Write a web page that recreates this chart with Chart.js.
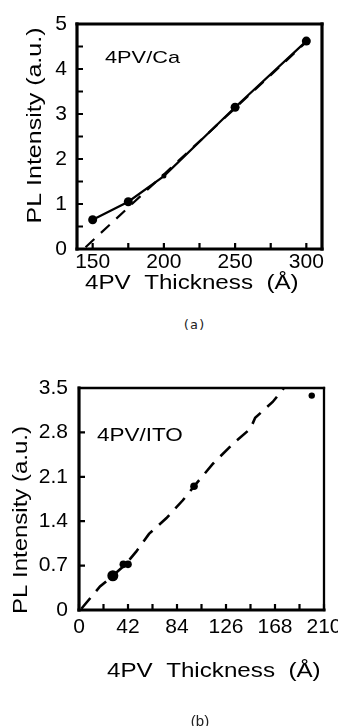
<!DOCTYPE html>
<html>
<head>
<meta charset="utf-8">
<script src="https://cdn.jsdelivr.net/npm/chart.js@4/dist/chart.umd.min.js"></script>
<style>
  html, body { margin: 0; padding: 0; background: #fff; }
  body { width: 338px; height: 726px; overflow: hidden; position: relative; }
  canvas { position: absolute; left: 0; }
  #chartA { top: 0; }
  #chartB { top: 340px; }
  .cap { position: absolute; transform: translate(-50%, -50%); color: #222; }
  #capA { left: 194px; top: 324px; font: 13px "DejaVu Sans Mono", monospace; }
  #capB { left: 200px; top: 720px; font: 15px "Liberation Sans", Arial, sans-serif; }
</style>
</head>
<body>
<canvas id="chartA" width="338" height="310"></canvas>
<canvas id="chartB" width="360" height="386"></canvas>
<div class="cap" id="capA">(a)</div>
<div class="cap" id="capB">(b)</div>
<script>
// (a) 4PV/Ca
const caThickness = [150, 175, 200, 250, 300];
const caIntensity = [0.65, 1.05, 1.62, 3.15, 4.62];
const caFitThickness = [145, 300];
const caFitIntensity = [0.04, 4.6];
const caXTicks = [150, 200, 250, 300];
const caYTicks = [0, 1, 2, 3, 4, 5];

// (b) 4PV/ITO
const itoThickness = [29, 38, 42, 98.6, 199.5];
const itoIntensity = [0.54, 0.72, 0.72, 1.95, 3.38];
const itoFitThickness = [2, 18, 29, 40, 49, 60, 75, 89, 98.6, 115, 132, 147, 151, 166, 177];
const itoFitIntensity = [0.02, 0.37, 0.54, 0.72, 0.92, 1.2, 1.45, 1.73, 1.95, 2.31, 2.62, 2.86, 3.03, 3.28, 3.53];
const itoXTicks = [0, 42, 84, 126, 168, 210];
const itoYTicks = ["0", "0.7", "1.4", "2.1", "2.8", "3.5"];

const FONT = "'Liberation Sans', Arial, sans-serif";

const toPoints = (xs, ys) => xs.map((x, i) => ({ x: x, y: ys[i] }));

const pickLabel = (list) => (v) => {
  const hit = list.find((l) => Math.abs(Number(l) - v) < 1e-6);
  return hit === undefined ? "" : String(hit);
};

// inward tick marks + frame
const frame = (o) => ({
  id: "frame",
  afterDatasetsDraw(chart) {
    const { ctx, chartArea: a, scales } = chart;
    ctx.save();
    ctx.strokeStyle = "#000";
    ctx.lineCap = "butt";
    ctx.lineWidth = o.tickWidth;
    ctx.beginPath();
    scales.x.ticks.forEach((t) => {
      const px = scales.x.getPixelForValue(t.value);
      ctx.moveTo(px, a.bottom);
      ctx.lineTo(px, a.bottom - o.tickLen);
    });
    scales.y.ticks.forEach((t) => {
      const py = scales.y.getPixelForValue(t.value);
      ctx.moveTo(a.left, py);
      ctx.lineTo(a.left + o.tickLen, py);
    });
    ctx.stroke();
    const edge = (w, x1, y1, x2, y2) => {
      ctx.lineWidth = w;
      ctx.beginPath();
      ctx.moveTo(x1, y1);
      ctx.lineTo(x2, y2);
      ctx.stroke();
    };
    ctx.lineCap = "square";
    edge(o.axisWidth, a.left, a.top, a.left, a.bottom);
    edge(o.axisWidth, a.left, a.bottom, a.right, a.bottom);
    edge(o.frameWidth, a.left, a.top, a.right, a.top);
    edge(o.frameWidth, a.right, a.top, a.right, a.bottom);
    ctx.restore();
  },
});

// titles and inset labels (text is a bit wide in the original)
const texts = (items) => ({
  id: "texts",
  afterDraw(chart) {
    const ctx = chart.ctx;
    items.forEach((it) => {
      ctx.save();
      ctx.fillStyle = "#000";
      ctx.font = it.size + "px " + FONT;
      ctx.textBaseline = "middle";
      ctx.textAlign = it.align || "left";
      ctx.translate(it.x, it.y);
      if (it.rot) ctx.rotate(-Math.PI / 2);
      ctx.scale(it.sx, 1);
      ctx.fillText(it.text, 0, 0);
      ctx.restore();
    });
  },
});

const axis = (o) => ({
  type: "linear",
  position: o.position,
  min: o.min,
  max: o.max,
  grid: { display: false, drawTicks: false },
  border: { display: false },
  ticks: {
    stepSize: o.step,
    includeBounds: false,
    autoSkip: false,
    maxRotation: 0,
    padding: o.padding,
    color: "#000",
    font: { family: FONT, size: 21 },
    callback: pickLabel(o.labels),
  },
  afterFit: o.fit,
});

new Chart(document.getElementById("chartA"), {
  type: "scatter",
  data: {
    datasets: [
      {
        data: toPoints(caThickness, caIntensity),
        showLine: true,
        borderColor: "#000",
        borderWidth: 2.2,
        backgroundColor: "#000",
        pointRadius: [4.5, 4.5, 2.5, 4.5, 4.5],
        pointBorderWidth: 0,
      },
      {
        data: toPoints(caFitThickness, caFitIntensity),
        showLine: true,
        borderColor: "#000",
        borderWidth: 2.2,
        borderDash: [12, 9],
        pointRadius: 0,
      },
    ],
  },
  options: {
    responsive: false,
    animation: false,
    devicePixelRatio: 1,
    layout: { padding: { top: 24, right: 16, left: 0, bottom: 0 } },
    plugins: { legend: { display: false }, tooltip: { enabled: false } },
    scales: {
      x: axis({ position: "bottom", min: 139, max: 311, step: 25, padding: 1, labels: caXTicks,
        fit: (s) => { s.height = 61; } }),
      y: axis({ position: "left", min: 0, max: 5, step: 0.5, padding: 10, labels: caYTicks,
        fit: (s) => { s.width = 77; } }),
    },
  },
  plugins: [
    frame({ tickLen: 6, tickWidth: 2.2, axisWidth: 3.2, frameWidth: 3.2 }),
    texts([
      { text: "4PV/Ca", x: 105, y: 58, size: 17, sx: 1.28 },
      { text: "4PV  Thickness  (Å)", x: 85, y: 284, size: 19.5, sx: 1.24 },
      { text: "PL Intensity (a.u.)", x: 35.5, y: 125.5, size: 20.5, sx: 1.22, rot: true, align: "center" },
    ]),
  ],
});

new Chart(document.getElementById("chartB"), {
  type: "scatter",
  data: {
    datasets: [
      {
        data: toPoints(itoThickness, itoIntensity),
        showLine: false,
        backgroundColor: "#000",
        pointRadius: [5.5, 3.8, 3.8, 3.8, 3.2],
        pointBorderWidth: 0,
      },
      {
        data: toPoints(itoFitThickness, itoFitIntensity),
        showLine: true,
        borderColor: "#000",
        borderWidth: 2.6,
        borderDash: [14, 9],
        pointRadius: 0,
      },
    ],
  },
  options: {
    responsive: false,
    animation: false,
    devicePixelRatio: 1,
    layout: { padding: { top: 48, right: 36, left: 0, bottom: 0 } },
    plugins: { legend: { display: false }, tooltip: { enabled: false } },
    scales: {
      x: axis({ position: "bottom", min: 0, max: 210, step: 21, padding: 5, labels: itoXTicks,
        fit: (s) => { s.height = 116; } }),
      y: axis({ position: "left", min: 0, max: 3.5, step: 0.7, padding: 11, labels: itoYTicks,
        fit: (s) => { s.width = 79; } }),
    },
  },
  plugins: [
    frame({ tickLen: 6, tickWidth: 2.2, axisWidth: 3.2, frameWidth: 2.3 }),
    texts([
      { text: "4PV/ITO", x: 97, y: 96.5, size: 18, sx: 1.25 },
      { text: "4PV  Thickness  (Å)", x: 107, y: 332, size: 19.5, sx: 1.24 },
      { text: "PL Intensity (a.u.)", x: 21, y: 180, size: 20.5, sx: 1.17, rot: true, align: "center" },
    ]),
  ],
});
</script>
</body>
</html>
